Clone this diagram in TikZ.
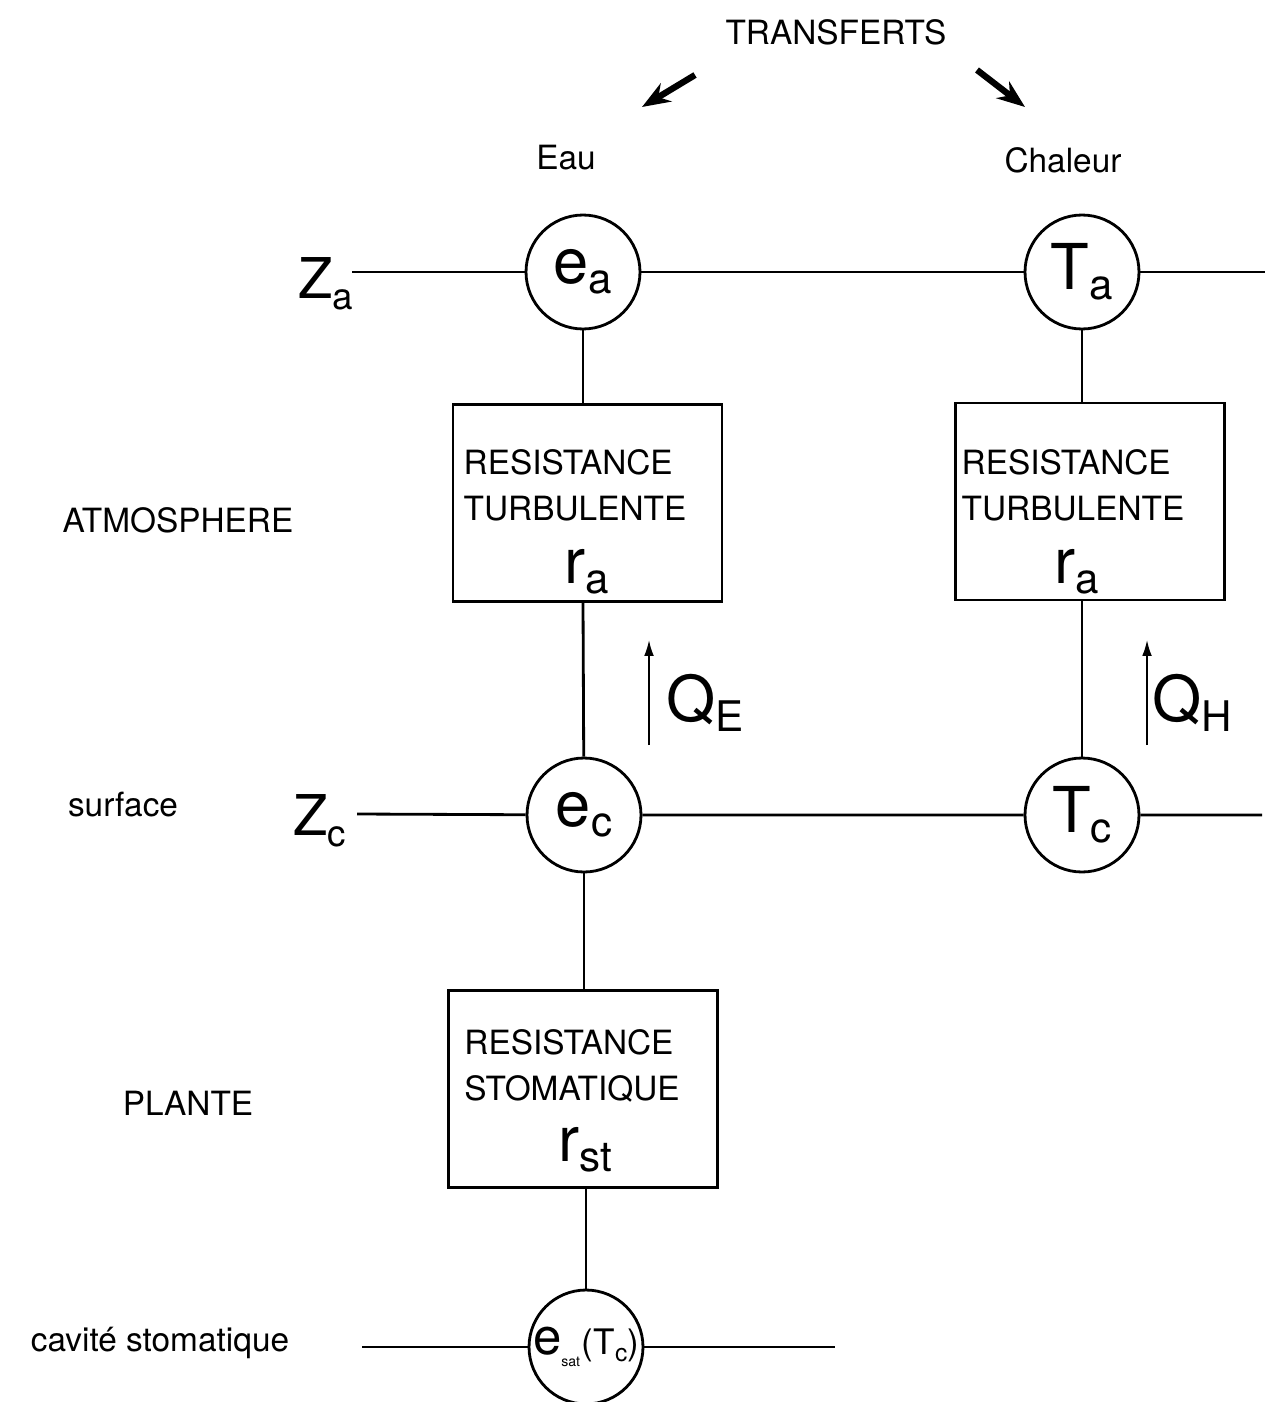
\documentclass[tikz,border=0pt]{standalone}
\usepackage{fontspec}
\setmainfont{TeX Gyre Heros}
\usepackage{tikz}
\usetikzlibrary{arrows.meta,positioning,calc}

% grande lettre avec indice
\newcommand{\grand}[2]{{\fontsize{36}{36}\selectfont #1}\raisebox{-0.55ex}{\fontsize{24}{24}\selectfont #2}}
\newcommand{\niveau}[2]{{\fontsize{32}{32}\selectfont #1}\raisebox{-0.6ex}{\fontsize{21}{21}\selectfont #2}}

\begin{document}
\begin{tikzpicture}[x=0.02cm, y=-0.02cm, line width=1.6pt,
    every node/.style={font=\fontsize{19}{26}\selectfont},
    var/.style={draw, circle, minimum size=2.28cm, inner sep=0pt},
    resbox/.style={draw, minimum width=5.38cm, minimum height=3.94cm, inner sep=0pt},
    flux/.style={line width=1pt, -{Latex[length=9pt,width=5.5pt]}},
    bigarrow/.style={line width=3.6pt, -{Stealth[length=16pt,width=12pt]}}]
    \useasboundingbox (0,0) rectangle (1270,1402);

    % titre et fleches
    \node (transf) at (836,32) {TRANSFERTS};
    \coordinate (fgA) at (695,75);
    \coordinate (fgB) at (642,107);
    \coordinate (fdA) at (977,70);
    \coordinate (fdB) at (1025,107);
    \draw[bigarrow] (fgA) -- (fgB);
    \draw[bigarrow] (fdA) -- (fdB);
    \node (eau) at (566,158) {Eau};
    \node (chal) at (1063,160) {Chaleur};

    % niveau Z_a
    \node (za) at (326,284) {\niveau{Z}{a}};
    \node[var] (ea) at (583,272) {\grand{e}{a}};
    \node[var] (ta) at (1082,272) {\grand{T}{a}};
    \coordinate (zaR) at (352,272);
    \coordinate (taR) at (1265,272);
    \draw (zaR) -- (ea) -- (ta) -- (taR);

    % resistances turbulentes
    \node[resbox] (rA) at (587.5,503) {};
    \node[align=left] (rAt) at (575,485) {RESISTANCE\\TURBULENTE};
    \node (rAs) at (587,572) {\grand{r}{a}};
    \node[resbox] (rB) at (1090,501.5) {};
    \node[align=left] (rBt) at (1073,485) {RESISTANCE\\TURBULENTE};
    \node (rBs) at (1077,572) {\grand{r}{a}};
    \node (atm) at (178,520) {ATMOSPHERE};

    % flux
    \coordinate (qeB) at (649,745);
    \coordinate (qeT) at (649,640);
    \draw[flux] (qeB) -- (qeT);
    \node (qe) at (705,703) {\grand{Q}{E}};
    \coordinate (qhB) at (1147,745);
    \coordinate (qhT) at (1147,640);
    \draw[flux] (qhB) -- (qhT);
    \node (qh) at (1192,703) {\grand{Q}{H}};

    % niveau surface
    \node (surf) at (123,805) {surface};
    \node (zc) at (320,821) {\niveau{Z}{c}};
    \node[var] (ec) at (584,815) {\grand{e}{c}};
    \node[var] (tc) at (1082,815) {\grand{T}{c}};
    \coordinate (zcR) at (357,814);
    \coordinate (tcR) at (1262,815);
    \draw (zcR) -- (ec) -- (tc) -- (tcR);

    % liaisons verticales
    \draw (ea) -- (ea |- rA.north);
    \draw (ea |- rA.south) -- (ec);
    \draw (ta) -- (ta |- rB.north);
    \draw (ta |- rB.south) -- (tc);

    % resistance stomatique
    \node[resbox] (rS) at (583,1089) {};
    \node[align=left] (rSt) at (572,1066) {RESISTANCE\\STOMATIQUE};
    \node (rSs) at (585,1150) {\grand{r}{st}};
    \node (plante) at (188,1103) {PLANTE};
    \draw (ec) -- (ec |- rS.north);

    % cavite stomatique
    \node (cav) at (160,1343) {cavit\'e stomatique};
    \node[var] (esat) at (586,1347) {{\fontsize{29}{29}\selectfont e}\raisebox{-0.7ex}{\fontsize{8}{8}\selectfont sat}\kern1pt{\fontsize{20}{20}\selectfont (T\raisebox{-0.4ex}{\fontsize{14}{14}\selectfont c})}};
    \draw (esat |- rS.south) -- (esat);
    \coordinate (cavL) at (362,1347);
    \coordinate (cavR) at (835,1347);
    \draw (cavL) -- (esat) -- (cavR);
\end{tikzpicture}
\end{document}
